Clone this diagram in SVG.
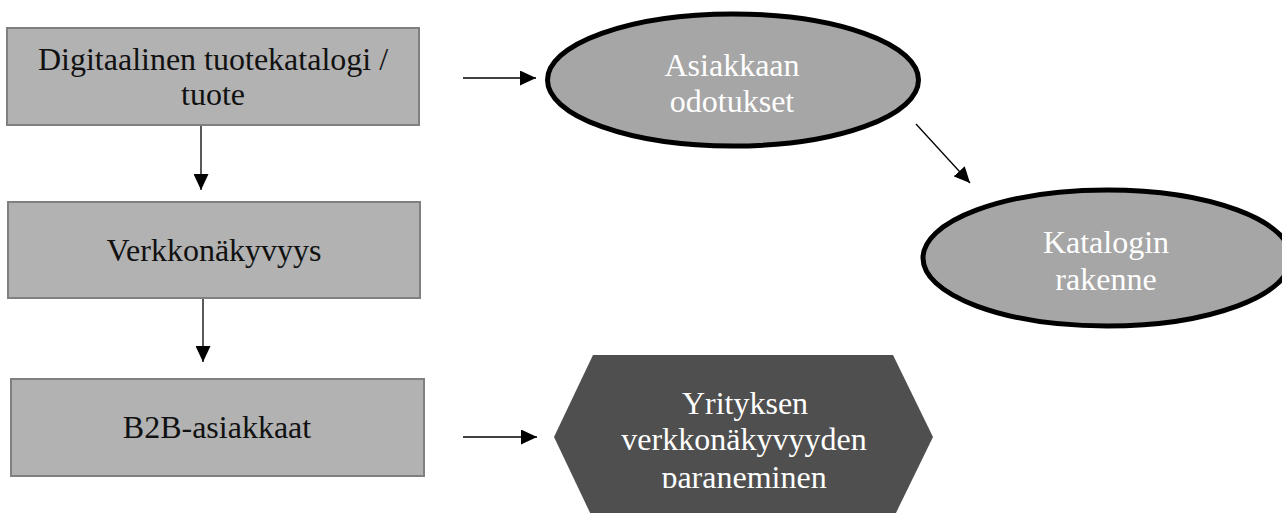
<svg xmlns="http://www.w3.org/2000/svg" width="1282" height="513" viewBox="0 0 1282 513">
<style>
.box{fill:#b2b2b2;stroke:#808080;stroke-width:2}
.ell{fill:#a6a6a6;stroke:#000;stroke-width:5}
.hex{fill:#4f4f4f}
.t{font-family:"Liberation Serif","Times New Roman",serif;font-size:32px;text-anchor:middle}
.dk{fill:#111}
.lt{fill:#fff}
.con{stroke:#000;stroke-width:1.3;fill:none}
</style>
<defs>
<marker id="ah" viewBox="0 0 16 15" refX="16" refY="7.5" markerWidth="16" markerHeight="15" markerUnits="userSpaceOnUse" orient="auto">
<path d="M0,0 L16,7.5 L0,15 Z" fill="#000"/>
</marker>
<clipPath id="hexclip"><rect x="540" y="340" width="420" height="148"/></clipPath>
</defs>
<g id="connectors">
<line class="con" x1="201" y1="125" x2="201" y2="190" marker-end="url(#ah)"/>
<line class="con" x1="203" y1="298" x2="203" y2="362" marker-end="url(#ah)"/>
<line class="con" x1="463" y1="78" x2="536" y2="78" marker-end="url(#ah)"/>
<line class="con" x1="916" y1="124" x2="970" y2="183" marker-end="url(#ah)"/>
<line class="con" x1="463" y1="437" x2="537" y2="437" marker-end="url(#ah)"/>
</g>
<g id="node-digitaalinen">
<rect class="box" x="7" y="28" width="412" height="97"/>
<text class="t dk" x="213" y="70">Digitaalinen tuotekatalogi /</text>
<text class="t dk" x="213" y="105">tuote</text>
</g>
<g id="node-verkkonakyvyys">
<rect class="box" x="8" y="202" width="412" height="96"/>
<text class="t dk" x="214" y="261">Verkkonäkyvyys</text>
</g>
<g id="node-b2b">
<rect class="box" x="11" y="379" width="413" height="97"/>
<text class="t dk" x="217" y="438">B2B-asiakkaat</text>
</g>
<g id="node-asiakkaan">
<ellipse class="ell" cx="733" cy="80" rx="185.5" ry="66"/>
<text class="t lt" x="732" y="76">Asiakkaan</text>
<text class="t lt" x="732" y="112">odotukset</text>
</g>
<g id="node-katalogin">
<ellipse class="ell" cx="1107" cy="258" rx="184" ry="68"/>
<text class="t lt" x="1106" y="253">Katalogin</text>
<text class="t lt" x="1106" y="290">rakenne</text>
</g>
<g id="node-yrityksen">
<polygon class="hex" points="593,355 893,355 933,437 893,519 593,519 554,437"/>
<g clip-path="url(#hexclip)">
<text class="t lt" x="745" y="414">Yrityksen</text>
<text class="t lt" x="744" y="450">verkkonäkyvyyden</text>
<text class="t lt" x="744" y="488">paraneminen</text>
</g>
</g>
</svg>
